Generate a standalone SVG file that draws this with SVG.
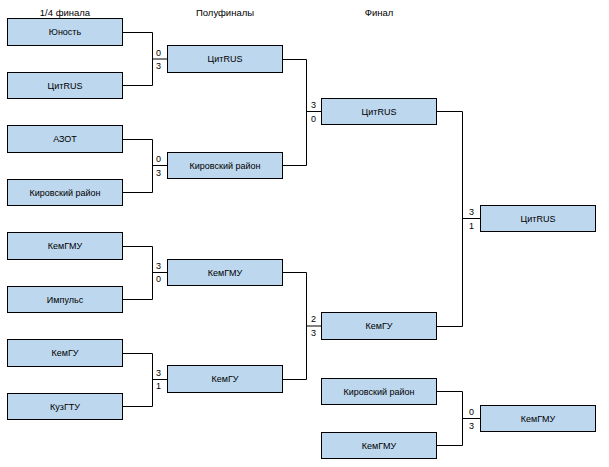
<svg xmlns="http://www.w3.org/2000/svg" width="609" height="467" viewBox="0 0 609 467">
<style>
.b{fill:#BDD7EE;stroke:#000;stroke-width:1}
.t{font-family:"Liberation Sans",Arial,sans-serif;font-size:9px;fill:#000;text-anchor:middle;dominant-baseline:central}
.s{font-family:"Liberation Sans",Arial,sans-serif;font-size:9px;fill:#000}
.h{font-family:"Liberation Sans",Arial,sans-serif;font-size:9.5px;fill:#000;text-anchor:middle}
.c{fill:none;stroke:#000;stroke-width:1}
</style>
<rect width="609" height="467" fill="#fff"/>
<text class="h" x="65" y="16">1/4 финала</text>
<text class="h" x="225" y="16">Полуфиналы</text>
<text class="h" x="379" y="16">Финал</text>
<g id="connectors">
<path class="c" d="M123,32.5H152.5V85.5H123M152.5,59H167"/>
<path class="c" d="M123,139.5H152.5V192.5H123M152.5,165.5H167"/>
<path class="c" d="M123,246.5H152.5V299.5H123M152.5,272.5H167"/>
<path class="c" d="M123,353.5H152.5V406.5H123M152.5,379.5H167"/>
<path class="c" d="M283,59.5H306.5V165.5H283M306.5,111.5H321"/>
<path class="c" d="M283,272.5H306.5V379.5H283M306.5,326H321"/>
<path class="c" d="M436,111.5H462.5V326.5H436M462.5,218.5H480"/>
<path class="c" d="M436,391.5H462.5V445.5H436M462.5,418.5H480"/>
</g>
<g id="scores">
<text class="s" x="156" y="56">0</text><text class="s" x="156" y="69">3</text>
<text class="s" x="156" y="162">0</text><text class="s" x="156" y="176">3</text>
<text class="s" x="156" y="269">3</text><text class="s" x="156" y="282">0</text>
<text class="s" x="156" y="376">3</text><text class="s" x="156" y="389">1</text>
<text class="s" x="311" y="108">3</text><text class="s" x="311" y="122">0</text>
<text class="s" x="311" y="322">2</text><text class="s" x="311" y="336">3</text>
<text class="s" x="469" y="215">3</text><text class="s" x="469" y="229">1</text>
<text class="s" x="469" y="415">0</text><text class="s" x="469" y="429">3</text>
</g>
<g id="qf1"><rect class="b" x="7.5" y="18.5" width="115" height="27"/><text class="t" x="65" y="32">Юность</text></g>
<g id="qf2"><rect class="b" x="7.5" y="72.5" width="115" height="26"/><text class="t" x="65" y="85.5">ЦитRUS</text></g>
<g id="qf3"><rect class="b" x="7.5" y="125.5" width="115" height="27"/><text class="t" x="65" y="139">АЗОТ</text></g>
<g id="qf4"><rect class="b" x="7.5" y="179.5" width="115" height="26"/><text class="t" x="65" y="192.5">Кировский район</text></g>
<g id="qf5"><rect class="b" x="7.5" y="232.5" width="115" height="27"/><text class="t" x="65" y="246">КемГМУ</text></g>
<g id="qf6"><rect class="b" x="7.5" y="286.5" width="115" height="26"/><text class="t" x="65" y="299.5">Импульс</text></g>
<g id="qf7"><rect class="b" x="7.5" y="339.5" width="115" height="27"/><text class="t" x="65" y="353">КемГУ</text></g>
<g id="qf8"><rect class="b" x="7.5" y="393.5" width="115" height="26"/><text class="t" x="65" y="406.5">КузГТУ</text></g>
<g id="sf1"><rect class="b" x="167.5" y="45.5" width="115" height="27"/><text class="t" x="225" y="59">ЦитRUS</text></g>
<g id="sf2"><rect class="b" x="167.5" y="152.5" width="115" height="26"/><text class="t" x="225" y="165.5">Кировский район</text></g>
<g id="sf3"><rect class="b" x="167.5" y="259.5" width="115" height="26"/><text class="t" x="225" y="272.5">КемГМУ</text></g>
<g id="sf4"><rect class="b" x="167.5" y="365.5" width="115" height="27"/><text class="t" x="225" y="379">КемГУ</text></g>
<g id="f1"><rect class="b" x="321.5" y="98.5" width="115" height="26"/><text class="t" x="379" y="111.5">ЦитRUS</text></g>
<g id="f2"><rect class="b" x="321.5" y="312.5" width="115" height="27"/><text class="t" x="379" y="326">КемГУ</text></g>
<g id="w"><rect class="b" x="480.5" y="205.5" width="115" height="26"/><text class="t" x="538" y="218.5">ЦитRUS</text></g>
<g id="t1"><rect class="b" x="321.5" y="378.5" width="115" height="26"/><text class="t" x="379" y="391.5">Кировский район</text></g>
<g id="t2"><rect class="b" x="321.5" y="432.5" width="115" height="26"/><text class="t" x="379" y="445.5">КемГМУ</text></g>
<g id="t3"><rect class="b" x="480.5" y="405.5" width="115" height="26"/><text class="t" x="538" y="418.5">КемГМУ</text></g>
</svg>
